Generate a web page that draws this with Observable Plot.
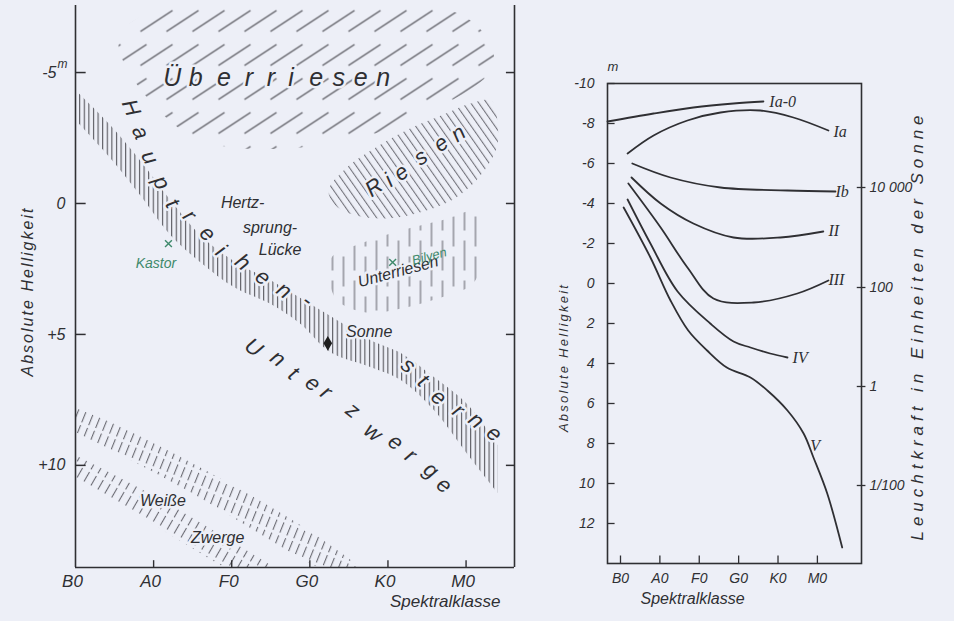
<!DOCTYPE html>
<html><head><meta charset="utf-8">
<script src="https://cdn.jsdelivr.net/npm/d3@7"></script>
<script src="https://cdn.jsdelivr.net/npm/@observablehq/plot@0.6"></script>
<style>
html,body{margin:0;padding:0;background:#edeff7;}
#wrap{position:relative;width:954px;height:621px;overflow:hidden;background:#edeff7;}
#left{position:absolute;left:0;top:0;}
#right{position:absolute;left:540px;top:0;}
svg{overflow:visible}
</style></head><body><div id="wrap"><div id="left"></div><div id="right"></div></div>
<script>
// ================= DATA =================
const spectralTicks = [0, 1, 2, 3, 4, 5];
const spectralLabels = ["B0", "A0", "F0", "G0", "K0", "M0"];

// ---- left panel (HR diagram) ----
const leftMagTicks = [-5, 0, 5, 10];
const leftMagLabels = ["-5", "0", "+5", "+10"];

// Hauptreihe band
const msX = [0.03, 0.45, 0.83, 1.22, 1.60, 2.05, 2.50, 2.88, 3.27, 3.78, 4.17, 4.59, 5.03, 5.41];
const msTop = [-4.24, -2.98, -1.64, -0.11, 1.22, 2.25, 2.94, 3.62, 4.32, 5.23, 5.73, 6.64, 7.71, 9.24];
const msBottom = [-3.09, -1.72, -0.31, 1.22, 2.25, 3.24, 3.85, 4.60, 5.70, 6.26, 6.76, 7.90, 9.62, 11.07];

// Überriesen region outline
const ueberX = [0.55, 0.96, 4.87, 5.32, 5.32, 4.42, 3.14, 1.47];
const ueberY = [-6.15, -7.29, -7.29, -6.03, -5.08, -3.36, -2.21, -2.60];

// Riesen region outline
const riesenX = [3.24, 3.46, 3.78, 4.23, 4.68, 5.06, 5.32, 5.41, 5.38, 5.13, 4.81, 4.36, 3.97, 3.59, 3.33];
const riesenY = [-0.50, -1.34, -2.02, -2.79, -3.36, -3.82, -3.93, -2.79, -2.02, -0.88, -0.11, 0.38, 0.57, 0.46, 0.08];

// Unterriesen region outline
const unterX = [3.27, 3.65, 4.17, 4.68, 5.13, 5.17, 5.06, 4.68, 4.17, 3.72, 3.33];
const unterY = [2.10, 1.53, 1.03, 0.65, 0.34, 2.56, 3.13, 3.59, 4.01, 4.16, 3.63];

// Weiße Zwerge, two bands
const wd1X = [0.0, 0.71, 1.47, 2.24, 2.88, 3.53, 3.9];
const wd1Top = [7.71, 8.74, 9.89, 11.15, 12.29, 13.63, 14.5];
const wd1Bottom = [8.74, 9.81, 11.03, 12.40, 13.55, 14.6, 15.5];
const wd2X = [0.0, 0.58, 1.22, 1.86, 2.5, 2.9];
const wd2Top = [9.62, 10.50, 11.53, 12.67, 13.82, 14.6];
const wd2Bottom = [10.57, 11.53, 12.67, 13.82, 14.77, 15.5];

// stars
const sunX = [3.23], sunY = [5.34];
const starNames = ["Kastor", "Bilyen"];
const starX = [1.19, 4.06], starY = [1.53, 2.25];

// lettering along the regions
const ueberChars = "Überriesen".split("");
const ueberCX = [1.24, 1.54, 1.90, 2.22, 2.50, 2.76, 3.08, 3.37, 3.65, 3.94];
const ueberCY = [-4.81, -4.81, -4.81, -4.81, -4.81, -4.81, -4.81, -4.81, -4.81, -4.81];

const hauptChars = "Hauptreihen-".split("");
const hauptCX = [0.71, 0.83, 0.95, 1.10, 1.24, 1.46, 1.69, 1.86, 2.14, 2.40, 2.67, 2.97];
const hauptCY = [-3.66, -2.71, -1.76, -0.80, 0.00, 0.46, 1.15, 1.79, 2.25, 2.82, 3.32, 3.70];
const hauptRot = [68, 66, 64, 62, 58, 50, 45, 42, 40, 38, 36, 35];

const sterneChars = "sterne".split("");
const sterneCX = [4.26, 4.45, 4.65, 4.90, 5.13, 5.36];
const sterneCY = [6.18, 6.76, 7.40, 7.90, 8.28, 8.78];

const uzChars = "Unterzwerge".split("");
const uzCX = [2.28, 2.59, 2.79, 3.04, 3.21, 3.55, 3.81, 4.10, 4.29, 4.55, 4.72];
const uzCY = [5.50, 5.92, 6.49, 6.87, 7.21, 7.90, 8.74, 9.12, 9.62, 10.19, 10.76];

const riesenChars = "Riesen".split("");
const riesenCX = [3.82, 4.01, 4.17, 4.42, 4.68, 4.90];
const riesenCY = [-0.61, -0.88, -1.18, -1.76, -2.29, -2.67];

const notes = ["Hertz-", "sprung-", "Lücke", "Sonne", "Weiße", "Zwerge"];
const notesX = [2.14, 2.49, 2.62, 3.76, 1.12, 1.82];
const notesY = [-0.04, 0.92, 1.79, 4.92, 11.34, 12.75];

// ---- right panel (luminosity classes) ----
const rightMagTicks = [-10, -8, -6, -4, -2, 0, 2, 4, 6, 8, 10, 12];
const rightMagLabels = ["-10", "-8", "-6", "-4", "-2", "0", "2", "4", "6", "8", "10", "12"];
const lumLabels = ["10 000", "100", "1", "1/100"];
const lumMag = [-4.8, 0.2, 5.15, 10.1];

const classNames = ["Ia-0", "Ia", "Ib", "II", "III", "IV", "V"];
const ia0X = [-0.33, 0.84, 1.85, 2.87, 3.63];
const ia0Y = [-8.1, -8.5, -8.8, -9.0, -9.1];
const iaX = [0.18, 0.84, 1.70, 2.54, 3.55, 4.39, 5.28];
const iaY = [-6.5, -7.4, -8.15, -8.55, -8.65, -8.3, -7.65];
const ibX = [0.30, 1.27, 2.54, 4.24, 5.46];
const ibY = [-6.0, -5.3, -4.8, -4.65, -4.6];
const iiX = [0.28, 1.02, 1.85, 2.87, 4.06, 5.15];
const iiY = [-5.3, -4.0, -3.0, -2.3, -2.3, -2.6];
const iiiX = [0.20, 1.02, 1.70, 2.36, 3.38, 4.49, 5.28];
const iiiY = [-5.0, -2.8, -0.8, 0.75, 0.95, 0.5, -0.15];
const ivX = [0.18, 0.76, 1.45, 2.28, 2.87, 3.3, 3.8, 4.24];
const ivY = [-4.2, -2.0, 0.4, 2.0, 2.9, 3.2, 3.5, 3.7];
const vX = [0.08, 0.76, 1.27, 1.72, 2.2, 2.7, 3.3, 3.73, 4.24, 4.65, 4.9, 5.25, 5.63];
const vY = [-3.8, -1.3, 0.85, 2.35, 3.35, 4.2, 4.7, 5.35, 6.35, 7.5, 8.7, 10.5, 13.2];
const classLabelX = [3.78, 5.41, 5.46, 5.28, 5.28, 4.37, 4.82];
const classLabelY = [-9.1, -7.6, -4.6, -2.65, -0.2, 3.7, 8.1];

// ================= STYLE =================
const FONT = "'Liberation Sans', 'DejaVu Sans', sans-serif";
const SERIF = "'Liberation Serif', 'DejaVu Serif', serif";
const INK = "#2f2f33";
const HATCH = "#55555c";
const HATCH2 = "#6a6a72";
const BG = "#edeff7";
const GREEN = "#3f8a6c";

const band = (xs, a, b) => xs.map((x, i) => ({x, y1: a[i], y2: b[i]}));
const poly = (xs, ys) => xs.map((x, i) => ({x, y: ys[i]}));
const letters = (cs, xs, ys, rs) => cs.map((t, i) => ({t, x: xs[i], y: ys[i], r: Array.isArray(rs) ? rs[i] : rs}));

const LX = [0, 5.62], LY = [13.9, -7.56];
const halo = {stroke: BG, strokeWidth: 5, paintOrder: "stroke", fill: INK, fontStyle: "italic"};

const left = Plot.plot({
  width: 520, height: 621,
  marginLeft: 75, marginRight: 6, marginTop: 5, marginBottom: 54,
  x: {domain: LX, axis: null},
  y: {domain: LY, axis: null},
  style: {background: "transparent", fontFamily: FONT, overflow: "visible"},
  marks: [
    Plot.line(poly(ueberX, ueberY), {x: "x", y: "y", fill: "url(#h-ueber)", stroke: "none", curve: "catmull-rom-closed"}),
    Plot.line(poly(riesenX, riesenY), {x: "x", y: "y", fill: "url(#h-riesen)", stroke: "none", curve: "catmull-rom-closed"}),
    Plot.line(poly(unterX, unterY), {x: "x", y: "y", fill: "url(#h-unter)", stroke: "none", curve: "catmull-rom-closed"}),
    Plot.areaY(band(msX, msTop, msBottom), {x: "x", y1: "y1", y2: "y2", fill: "url(#h-ms)", curve: "catmull-rom"}),
    Plot.areaY(band(wd1X, wd1Top, wd1Bottom), {x: "x", y1: "y1", y2: "y2", fill: "url(#h-wd)", curve: "catmull-rom", clip: true}),
    Plot.areaY(band(wd2X, wd2Top, wd2Bottom), {x: "x", y1: "y1", y2: "y2", fill: "url(#h-wd2)", curve: "catmull-rom", clip: true}),
    // frame (open at top)
    Plot.ruleX(LX, {stroke: INK, strokeWidth: 1.6}),
    Plot.ruleY([LY[0]], {stroke: INK, strokeWidth: 1.6}),
    // ticks
    Plot.link(leftMagTicks, {x1: LX[0], x2: LX[0] + 0.13, y1: d => d, y2: d => d, stroke: INK, strokeWidth: 1.5}),
    Plot.link(leftMagTicks, {x1: LX[1], x2: LX[1] - 0.11, y1: d => d, y2: d => d, stroke: INK, strokeWidth: 1.5}),
    Plot.link(spectralTicks.slice(1), {x1: d => d, x2: d => d, y1: LY[0], y2: LY[0] - 0.28, stroke: INK, strokeWidth: 1.4}),
    Plot.text(leftMagTicks.slice(1), {x: LX[0], y: d => d, text: (d, i) => leftMagLabels[i + 1], dx: -10, textAnchor: "end", fontSize: 16, fontStyle: "italic", fill: INK}),
    Plot.text(leftMagTicks.slice(0, 1), {x: LX[0], y: d => d, text: (d, i) => leftMagLabels[i], dx: -19, textAnchor: "end", fontSize: 16, fontStyle: "italic", fill: INK}),
    Plot.text(["m"], {x: LX[0], y: leftMagTicks[0], text: d => d, dx: -18, dy: -8, textAnchor: "start", fontSize: 12, fontStyle: "italic", fill: INK}),
    Plot.text(spectralTicks, {x: d => d, y: LY[0], text: (d, i) => spectralLabels[i], dx: -3, dy: 14, fontSize: 17, fontStyle: "italic", fill: INK}),
    Plot.text(["Spektralklasse"], {frameAnchor: "bottom-right", text: d => d, dx: -14, dy: 39, textAnchor: "end", fontSize: 17, fontStyle: "italic", fill: INK}),
    Plot.text(["Absolute Helligkeit"], {frameAnchor: "left", text: d => d, dx: -48, dy: 5, rotate: -90, textAnchor: "middle", fontSize: 16, fontStyle: "italic", fill: INK}),
    // lettering
    Plot.text(letters(ueberChars, ueberCX, ueberCY, 0), {x: "x", y: "y", text: "t", rotate: "r", fontSize: 25, ...halo}),
    Plot.text(letters(hauptChars, hauptCX, hauptCY, hauptRot), {x: "x", y: "y", text: "t", rotate: "r", fontSize: 22, ...halo}),
    Plot.text(letters(sterneChars, sterneCX, sterneCY, 40), {x: "x", y: "y", text: "t", rotate: "r", fontSize: 22, ...halo}),
    Plot.text(letters(uzChars, uzCX, uzCY, 38), {x: "x", y: "y", text: "t", rotate: "r", fontSize: 22, ...halo}),
    Plot.text(letters(riesenChars, riesenCX, riesenCY, -35), {x: "x", y: "y", text: "t", rotate: "r", fontSize: 22, ...halo}),
    Plot.text(notes, {x: (d, i) => notesX[i], y: (d, i) => notesY[i], text: d => d, fontSize: 16, ...halo}),
    Plot.text(["Unterriesen"], {x: 4.13, y: 2.6, text: d => d, rotate: -15, fontSize: 16, ...halo}),
    // stars
    Plot.dot(sunX.map((x, i) => ({x, y: sunY[i]})), {x: "x", y: "y", symbol: "diamond", r: 4.5, fill: "#1e1e1e"}),
    Plot.dot(starNames.map((n, i) => ({n, x: starX[i], y: starY[i]})), {x: "x", y: "y", symbol: "times", r: 3.2, stroke: GREEN, strokeWidth: 1.4}),
    Plot.text(["Kastor"], {x: 1.03, y: 2.29, text: d => d, fontSize: 14, fontStyle: "italic", fill: GREEN}),
    Plot.text(["Bilyen"], {x: 4.53, y: 2.02, text: d => d, rotate: -15, fontSize: 13, fontStyle: "italic", fill: GREEN})
  ]
});

// ---- right panel ----
const RX = [-0.33, 6.12], RY = [14, -10];
const curves = [ia0X, iaX, ibX, iiX, iiiX, ivX, vX].flatMap((xs, k) => {
  const ys = [ia0Y, iaY, ibY, iiY, iiiY, ivY, vY][k];
  return xs.map((x, i) => ({series: classNames[k], x, y: ys[i]}));
});

const right = Plot.plot({
  width: 414, height: 621,
  marginLeft: 67, marginRight: 93, marginTop: 83, marginBottom: 58,
  x: {domain: RX, axis: null},
  y: {domain: RY, axis: null},
  style: {background: "transparent", fontFamily: FONT, overflow: "visible"},
  marks: [
    Plot.frame({stroke: INK, strokeWidth: 1.6}),
    Plot.link(rightMagTicks, {x1: RX[0], x2: RX[0] + 0.18, y1: d => d, y2: d => d, stroke: INK, strokeWidth: 1.3}),
    Plot.text(rightMagTicks, {x: RX[0], y: d => d, text: (d, i) => rightMagLabels[i], dx: -13, textAnchor: "end", fontSize: 14, fontStyle: "italic", fill: INK}),
    Plot.text(["m"], {x: RX[0], y: RY[1], text: d => d, dx: 0, dy: -17, textAnchor: "start", fontSize: 13, fontStyle: "italic", fill: INK}),
    Plot.link(spectralTicks, {x1: d => d, x2: d => d, y1: RY[0], y2: RY[0] - 0.4, stroke: INK, strokeWidth: 1.3}),
    Plot.text(spectralTicks, {x: d => d, y: RY[0], text: (d, i) => spectralLabels[i], dy: 15, fontSize: 14, fontStyle: "italic", fill: INK}),
    Plot.link(lumMag, {x1: RX[1] - 0.12, x2: RX[1] + 0.1, y1: d => d, y2: d => d, stroke: INK, strokeWidth: 1.3}),
    Plot.text(lumMag, {x: RX[1], y: d => d, text: (d, i) => lumLabels[i], dx: 8, textAnchor: "start", fontSize: 14, fontStyle: "italic", fill: INK}),
    Plot.line(curves, {x: "x", y: "y", z: "series", stroke: INK, strokeWidth: 1.8, curve: "catmull-rom"}),
    Plot.text(classNames, {x: (d, i) => classLabelX[i], y: (d, i) => classLabelY[i], text: d => d, textAnchor: "start", fontSize: 16, fontStyle: "italic", fontFamily: SERIF, fill: INK}),
    Plot.text(["Spektralklasse"], {frameAnchor: "bottom", text: d => d, dx: -42, dy: 40, fontSize: 16, fontStyle: "italic", fill: INK}),
    Plot.text(["Absolute Helligkeit"], {frameAnchor: "left", text: d => d, dx: -44, dy: 34, rotate: -90, textAnchor: "middle", fontSize: 13, fontStyle: "italic", fill: INK}),
    Plot.text(["Leuchtkraft in Einheiten der Sonne"], {frameAnchor: "right", text: d => d, dx: 56, dy: 2, rotate: -90, textAnchor: "middle", fontSize: 17, fontStyle: "italic", fill: INK})
  ]
});

const svgOf = el => el.tagName.toLowerCase() === "svg" ? el : el.querySelector("svg");
const ls = svgOf(left);
d3.select(ls).insert("defs", ":first-child").html(`
<pattern id="h-ms" patternUnits="userSpaceOnUse" width="4.6" height="10">
  <line x1="1.5" y1="0" x2="1.5" y2="10" stroke="${HATCH}" stroke-width="1.1"/>
</pattern>
<pattern id="h-ueber" patternUnits="userSpaceOnUse" width="26" height="34">
  <line x1="-16" y1="31" x2="16" y2="10" stroke="${HATCH}" stroke-width="1.3"/>
  <line x1="10" y1="31" x2="42" y2="10" stroke="${HATCH}" stroke-width="1.3"/>
</pattern>
<pattern id="h-riesen" patternUnits="userSpaceOnUse" width="6.5" height="20" patternTransform="rotate(-35)">
  <line x1="1.5" y1="0" x2="1.5" y2="20" stroke="${HATCH2}" stroke-width="1"/>
</pattern>
<pattern id="h-unter" patternUnits="userSpaceOnUse" width="22" height="40">
  <line x1="2" y1="0" x2="2" y2="30" stroke="${HATCH2}" stroke-width="1.1"/>
  <line x1="13" y1="16" x2="13" y2="40" stroke="${HATCH2}" stroke-width="1.1"/>
  <line x1="13" y1="0" x2="13" y2="6" stroke="${HATCH2}" stroke-width="1.1"/>
</pattern>
<pattern id="h-wd" patternUnits="userSpaceOnUse" width="7.5" height="14" patternTransform="rotate(22)">
  <line x1="1.5" y1="0" x2="1.5" y2="11" stroke="${HATCH2}" stroke-width="1.1"/>
</pattern>
<pattern id="h-wd2" patternUnits="userSpaceOnUse" width="8" height="14" patternTransform="rotate(30)">
  <line x1="1.5" y1="0" x2="1.5" y2="11" stroke="${HATCH2}" stroke-width="1.1"/>
</pattern>`);

document.getElementById("left").appendChild(left);
document.getElementById("right").appendChild(right);

// spread the long axis titles to the length they have in the drawing (letter-spacing keeps them centred)
const stretch = (root, txt, len) => d3.select(svgOf(root)).selectAll("text")
  .filter(function() { return this.textContent === txt; })
  .each(function() {
    const natural = this.getComputedTextLength();
    const sp = Math.max(0, (len - natural) / (txt.length - 1));
    d3.select(this).style("letter-spacing", sp + "px");
  });
stretch(left, "Absolute Helligkeit", 168);
stretch(right, "Absolute Helligkeit", 147);
stretch(right, "Leuchtkraft in Einheiten der Sonne", 425);
</script></body></html>
